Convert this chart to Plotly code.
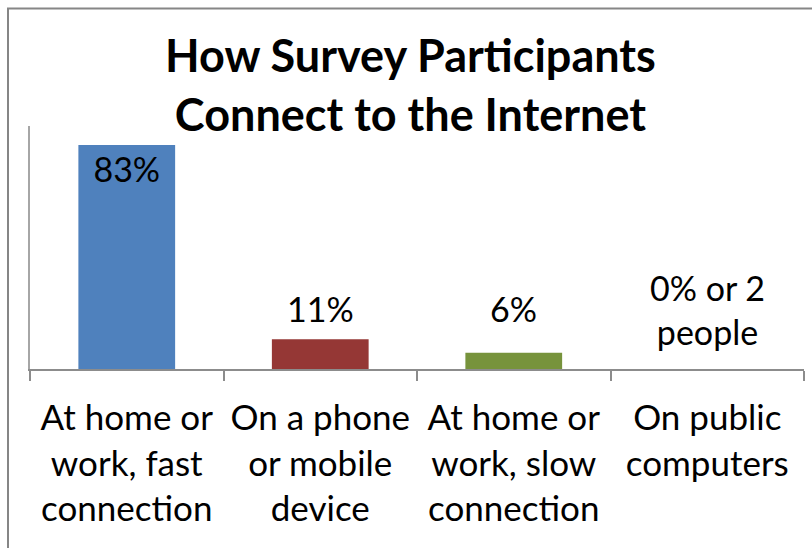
import plotly.graph_objects as go

# Survey results: share of participants by connection type
categories = [
    "At home or<br>work, fast<br>connection",
    "On a phone<br>or mobile<br>device",
    "At home or<br>work, slow<br>connection",
    "On public<br>computers",
]
values = [83, 11, 6, 0]
value_labels = ["83%", "11%", "6%", "0% or 2<br>people"]
bar_colors = ["#4F81BD", "#953735", "#77933C", "#4BACC6"]

FONT = "Lato"
LABEL_SIZE = 34

# Plot-area geometry in pixels (used to place the frame in paper units)
ml, mr, mt, mb = 30, 8, 126, 179
W, H = 812, 548
pw, ph = W - ml - mr, H - mt - mb

def px_x(v):
    return (v - ml) / pw

def px_y(v):
    return (H - mb - v) / ph

# First bar carries its label inside at the top; the rest sit above the bars
inside_text = [value_labels[0]] + [""] * (len(values) - 1)
label_lift = [None, 8, 22, 15]

fig = go.Figure(
    go.Bar(
        x=categories,
        y=values,
        width=0.5,
        marker=dict(color=bar_colors, line=dict(width=0)),
        text=inside_text,
        textposition="inside",
        insidetextanchor="end",
        constraintext="none",
        textfont=dict(family=FONT, size=LABEL_SIZE, color="#000000"),
        hoverinfo="skip",
    )
)

annotations = [
    dict(
        text="<b>How Survey Participants<br>Connect to the Internet</b>",
        xref="paper",
        yref="paper",
        x=px_x(410),
        y=px_y(26),
        xanchor="center",
        yanchor="top",
        showarrow=False,
        align="center",
        font=dict(family=FONT, size=45, color="#000000"),
    )
]
for cat, val, lab, lift in zip(categories, values, value_labels, label_lift):
    if lift is None:
        continue
    annotations.append(
        dict(
            x=cat,
            y=val,
            xref="x",
            yref="y",
            text=lab,
            showarrow=False,
            xanchor="center",
            yanchor="bottom",
            yshift=lift,
            align="center",
            font=dict(family=FONT, size=LABEL_SIZE, color="#000000"),
        )
    )

fig.update_layout(
    width=W,
    height=H,
    margin=dict(l=ml, r=mr, t=mt, b=mb, pad=0),
    paper_bgcolor="white",
    plot_bgcolor="white",
    showlegend=False,
    font=dict(family=FONT, color="#000000"),
    xaxis=dict(
        showline=True,
        linecolor="#8C8C8C",
        linewidth=2,
        ticks="outside",
        tickson="boundaries",
        ticklen=10,
        tickwidth=2,
        tickcolor="#8C8C8C",
        ticklabelstandoff=17,
        showgrid=False,
        zeroline=False,
        tickfont=dict(family=FONT, size=35, color="#000000"),
        fixedrange=True,
    ),
    yaxis=dict(
        range=[0, 90],
        showline=True,
        linecolor="#A6A6A6",
        linewidth=2,
        showticklabels=False,
        ticks="",
        showgrid=False,
        zeroline=False,
        fixedrange=True,
    ),
    shapes=[
        dict(
            type="rect",
            xref="paper",
            yref="paper",
            x0=px_x(8),
            x1=px_x(W + 20),
            y0=px_y(H + 20),
            y1=px_y(8.5),
            line=dict(color="#868686", width=2),
            fillcolor="rgba(0,0,0,0)",
            layer="below",
        )
    ],
    annotations=annotations,
)

fig.write_html("out.html")
